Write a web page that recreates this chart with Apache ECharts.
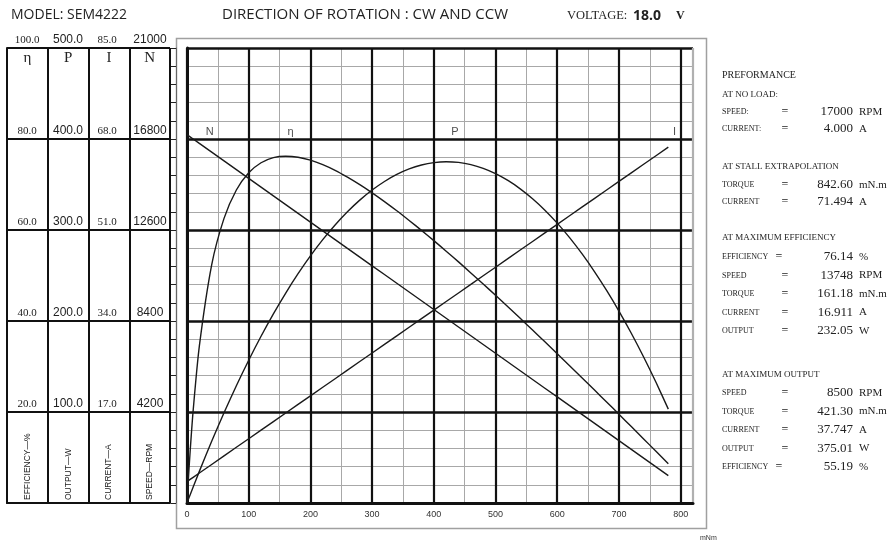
<!DOCTYPE html>
<html><head><meta charset="utf-8">
<script src="https://cdn.jsdelivr.net/npm/echarts@6/dist/echarts.min.js"></script>
<style>html,body{margin:0;padding:0;background:#fff}#c{width:895px;height:542px}</style>
</head><body><div id="c"></div>
<script>
// ---- data ----
const torque = [0,2,5,10,20,40,60,80,100,120,140,160,180,200,220,240,260,280,300,320,340,360,380,400,420,440,460,480,500,520,540,560,580,600,620,640,660,680,700,720,740,760,780];
const efficiency = [0,4.74,11.17,20.36,34.48,52.34,62.56,68.79,72.58,74.78,75.91,76.22,76.00,75.35,74.36,73.11,71.61,69.96,68.17,66.25,64.23,62.10,59.91,57.66,55.35,52.99,50.57,48.13,45.65,43.13,40.58,38.02,35.43,32.82,30.19,27.54,24.88,22.20,19.51,16.80,14.08,11.36,8.62];
const output = [0,3.55,8.85,17.59,34.76,67.83,99.21,128.90,156.90,183.20,207.82,230.75,251.99,271.54,289.39,305.56,320.04,332.83,343.92,353.33,361.05,367.07,371.41,374.05,375.01,374.27,371.85,367.73,361.93,354.43,345.24,334.37,321.80,307.54,291.60,273.96,254.63,233.62,210.91,186.51,160.42,132.64,103.17];
const current = [4.00,4.16,4.40,4.80,5.60,7.20,8.81,10.41,12.01,13.61,15.21,16.82,18.42,20.02,21.62,23.22,24.83,26.43,28.03,29.63,31.23,32.84,34.44,36.04,37.64,39.24,40.85,42.45,44.05,45.65,47.26,48.86,50.46,52.06,53.66,55.27,56.87,58.47,60.07,61.67,63.28,64.88,66.48];
const speed = [17000,16960,16899,16798,16596,16193,15789,15386,14982,14579,14175,13772,13368,12965,12561,12158,11754,11351,10947,10544,10140,9737,9333,8930,8526,8123,7719,7316,6912,6509,6105,5702,5298,4895,4491,4088,3684,3281,2877,2474,2070,1667,1263];

const tableColumns = ['η','P','I','N'];
const columnUnits = ['EFFICIENCY—%','OUTPUT—W','CURRENT—A','SPEED—RPM'];
const etaMax = 100, etaStep = 20;
const powerMax = 500, powerStep = 100;
const currentMax = 85, currentStep = 17;
const speedMax = 21000, speedStep = 4200;
const torqueMax = 820, torqueStep = 100, torqueLabelMax = 800;

const curveNames = ['N','η','P','I'];
const curveNameTorque = [37,168,434,790];
const curveNameLevel = [80,80,80,80];

const modelName = 'MODEL: SEM4222';
const rotationText = 'DIRECTION OF ROTATION : CW AND CCW';
const voltageValue = '18.0';

const perfNoLoad = [['SPEED:','17000','RPM'],['CURRENT:','4.000','A']];
const perfStall = [['TORQUE','842.60','mN.m'],['CURRENT','71.494','A']];
const perfMaxEff = [['EFFICIENCY','76.14','%'],['SPEED','13748','RPM'],['TORQUE','161.18','mN.m'],['CURRENT','16.911','A'],['OUTPUT','232.05','W']];
const perfMaxOut = [['SPEED','8500','RPM'],['TORQUE','421.30','mN.m'],['CURRENT','37.747','A'],['OUTPUT','375.01','W'],['EFFICIENCY','55.19','%']];

// ---- build ----
const pair = arr => torque.map((t,i)=>[t,arr[i]]);
const SERIF = 'Liberation Serif';
const SANS = 'Liberation Sans';

function labelAxis(max, interval, offset, font, size, fmt){
  return {gridIndex:0,type:'value',min:0,max,interval,position:'left',offset,
    axisLine:{show:false},axisTick:{show:false},splitLine:{show:false},
    axisLabel:{show:true,showMinLabel:false,showMaxLabel:true,margin:0,align:'center',verticalAlign:'bottom',
      padding:[0,0,2,0],fontFamily:font,fontSize:size,color:'#222',formatter:fmt}};
}

const chart = echarts.init(document.getElementById('c'));

const graphics = [];
graphics.push({type:'rect',shape:{x:176.5,y:38.5,width:530,height:490},style:{fill:null,stroke:'#a0a0a0',lineWidth:1.5},z:-10});
graphics.push({type:'text',x:11,y:15,style:{text:modelName,font:'14px "Open Sans"',fill:'#222',verticalAlign:'middle'}});
graphics.push({type:'text',x:222,y:15,style:{text:rotationText,font:'15px "Open Sans"',fill:'#222',verticalAlign:'middle'}});
graphics.push({type:'text',x:567,y:16,style:{text:'VOLTAGE:',font:'12.5px "Liberation Serif"',fill:'#222',verticalAlign:'middle'}});
graphics.push({type:'text',x:633,y:16,style:{text:voltageValue,font:'bold 14px "Open Sans"',fill:'#222',verticalAlign:'middle'}});
graphics.push({type:'text',x:676,y:16,style:{text:'V',font:'bold 12px "Liberation Serif"',fill:'#222',verticalAlign:'middle'}});
graphics.push({type:'text',x:700,y:538,style:{text:'mNm',font:'7px "Liberation Sans"',fill:'#333',verticalAlign:'middle'}});
const colCenters = [27.5,68.5,109,149.5];
columnUnits.forEach((t,i)=>{
  graphics.push({type:'text',x:colCenters[i],y:500,rotation:Math.PI/2,
    style:{text:t,font:'8.5px "Liberation Sans"',fill:'#222',align:'left',verticalAlign:'middle'}});
});
// performance panel
const PX = 722;
function head(t,y,size){graphics.push({type:'text',x:PX,y,style:{text:t,font:size+'px "Liberation Serif"',fill:'#222',verticalAlign:'middle'}});}
function rows(list,y0,step){
  list.forEach((r,i)=>{
    const y = y0+i*step;
    const eqX = r[0]==='EFFICIENCY' ? 779 : 785;
    graphics.push({type:'text',x:PX,y,style:{text:r[0],font:'8px "Liberation Serif"',fill:'#222',verticalAlign:'middle'}});
    graphics.push({type:'text',x:eqX,y,style:{text:'=',font:'12px "Liberation Serif"',fill:'#222',align:'center',verticalAlign:'middle'}});
    graphics.push({type:'text',x:853,y,style:{text:r[1],font:'13px "Liberation Serif"',fill:'#222',align:'right',verticalAlign:'middle'}});
    graphics.push({type:'text',x:859,y,style:{text:r[2],font:'11px "Liberation Serif"',fill:'#222',align:'left',verticalAlign:'middle'}});
  });
}
head('PREFORMANCE',75,10);
head('AT NO LOAD:',95,9);
rows(perfNoLoad,112,17);
head('AT STALL EXTRAPOLATION',167,9);
rows(perfStall,185,17);
head('AT MAXIMUM EFFICIENCY',238,9);
rows(perfMaxEff,257,18.5);
head('AT MAXIMUM OUTPUT',375,9);
rows(perfMaxOut,393,18.5);

const majorXColors = [];
for(let v=0; v<=torqueMax; v+=torqueStep){ majorXColors.push('#111'); }
majorXColors.push('#b0b0b0');

const option = {
  animation:false,
  backgroundColor:'#fff',
  grid:[
    {left:187,right:202,top:48,bottom:39},
    {left:7,right:725,top:48,bottom:39}
  ],
  xAxis:[
    {gridIndex:0,type:'value',min:0,max:torqueMax,interval:50,position:'bottom',z:0,
      axisLine:{show:false},axisTick:{show:false},axisLabel:{show:false},
      splitLine:{show:true,lineStyle:{color:'#a8a8a8',width:1}}},
    {gridIndex:0,type:'value',min:0,max:torqueMax,interval:torqueStep,position:'bottom',z:1,
      axisLine:{show:true,onZero:false,lineStyle:{color:'#111',width:3}},axisTick:{show:false},
      axisLabel:{show:true,margin:7,fontFamily:SANS,fontSize:9,color:'#333',
        formatter:v=> v>torqueLabelMax ? '' : String(v)},
      splitLine:{show:true,lineStyle:{color:majorXColors,width:2.2}}},
    {gridIndex:1,type:'category',data:tableColumns,position:'top',boundaryGap:true,
      axisLine:{show:true,lineStyle:{color:'#111',width:2}},axisTick:{show:false},
      axisLabel:{show:true,inside:true,margin:3,fontFamily:SERIF,fontSize:15,color:'#222'},
      splitLine:{show:true,interval:0,lineStyle:{color:'#111',width:2}}}
  ],
  yAxis:[
    {gridIndex:0,type:'value',min:0,max:etaMax,interval:etaStep,position:'left',z:1,
      axisLine:{show:true,onZero:false,lineStyle:{color:'#111',width:3}},axisTick:{show:false},axisLabel:{show:false},
      splitLine:{show:true,lineStyle:{color:'#111',width:2.5}},
      minorTick:{show:false,splitNumber:5},
      minorSplitLine:{show:true,lineStyle:{color:'#a8a8a8',width:1}}},
    labelAxis(etaMax,etaStep,160,SERIF,11,v=>v.toFixed(1)),
    labelAxis(powerMax,powerStep,119,SANS,12,v=>v.toFixed(1)),
    labelAxis(currentMax,currentStep,80,SERIF,11,v=>v.toFixed(1)),
    labelAxis(speedMax,speedStep,37,SANS,12,v=>String(v)),
    {gridIndex:0,type:'value',min:0,max:etaMax,interval:4,position:'left',offset:11,
      axisLine:{show:true,lineStyle:{color:'#666',width:1}},
      axisTick:{show:true,length:5,lineStyle:{color:'#222',width:1}},
      axisLabel:{show:false},splitLine:{show:false}},
    {gridIndex:1,type:'value',min:0,max:etaMax,interval:etaStep,
      axisLine:{show:true,lineStyle:{color:'#111',width:2}},axisTick:{show:false},axisLabel:{show:false},
      splitLine:{show:true,lineStyle:{color:'#111',width:2}}}
  ],
  series:[
    {name:'η',type:'line',xAxisIndex:1,yAxisIndex:0,data:pair(efficiency),showSymbol:false,smooth:0.25,
      lineStyle:{color:'#1a1a1a',width:1.4},z:5},
    {name:'P',type:'line',xAxisIndex:1,yAxisIndex:2,data:pair(output),showSymbol:false,smooth:0.25,
      lineStyle:{color:'#1a1a1a',width:1.4},z:5},
    {name:'I',type:'line',xAxisIndex:1,yAxisIndex:3,data:pair(current),showSymbol:false,
      lineStyle:{color:'#1a1a1a',width:1.4},z:5},
    {name:'N',type:'line',xAxisIndex:1,yAxisIndex:4,data:pair(speed),showSymbol:false,
      lineStyle:{color:'#1a1a1a',width:1.4},z:5},
    {name:'labels',type:'scatter',xAxisIndex:1,yAxisIndex:0,symbolSize:0,silent:true,z:6,
      data:curveNames.map((n,i)=>({value:[curveNameTorque[i],curveNameLevel[i]],name:n})),
      label:{show:true,position:'top',distance:2,formatter:p=>p.name,fontFamily:SANS,fontSize:11,color:'#222'}}
  ],
  graphic:graphics
};
chart.setOption(option);
</script>
</body></html>
